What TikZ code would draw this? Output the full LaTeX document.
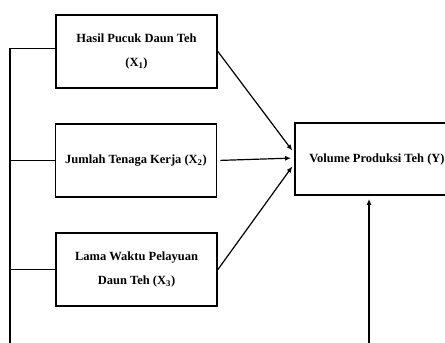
\documentclass[tikz,border=0pt]{standalone}
\usepackage{fontspec}
\setmainfont{Liberation Serif}
\usetikzlibrary{arrows.meta}

\tikzset{
	varbox/.style={draw, line width=1.8pt, minimum width=161pt, minimum height=73pt, inner sep=0pt, align=center, font=\fontsize{12.5}{24}\selectfont\bfseries},
	arr/.style={-{Latex[length=6pt,width=5pt]}, line width=1.2pt},
	link/.style={line width=1.2pt}
}

\begin{document}
\begin{tikzpicture}[x=1pt, y=-1pt]
		%%%%% START %%%%%
		\useasboundingbox (0, 0) rectangle (445, 343);
		
		\node[varbox] (x1) at (136.5, 51.5) {Hasil Pucuk Daun Teh\\(X\textsubscript{1})};
		\node[varbox] (x2) at (136, 160.5) {Jumlah Tenaga Kerja (X\textsubscript{2})};
		\node[varbox] (x3) at (136.5, 269.5) {Lama Waktu Pelayuan\\Daun Teh (X\textsubscript{3})};
		\node[varbox, minimum width=164pt, minimum height=72pt] (y) at (377, 159) {Volume Produksi Teh (Y)};
		
		\coordinate (bl) at (10, 343);
		\coordinate (br) at (369, 343);
		
		\draw[arr, shorten >=3pt] (x1.east) -- ([yshift=6pt]y.west);
		\draw[arr, shorten <=3pt, shorten >=3pt] (x2.east) -- ([yshift=1pt]y.west);
		\draw[arr, shorten >=3pt] (x3.east) -- ([yshift=-5pt]y.west);
		
		\draw[link] ([yshift=3pt]x1.west) -| (bl);
		\draw[link] (x2.west) -- (x2.west -| bl);
		\draw[link] (x3.west) -- (x3.west -| bl);
		\draw[arr, shorten >=3pt] (br) -- (br |- y.south);
		%%%%% END %%%%%
\end{tikzpicture}
\end{document}
